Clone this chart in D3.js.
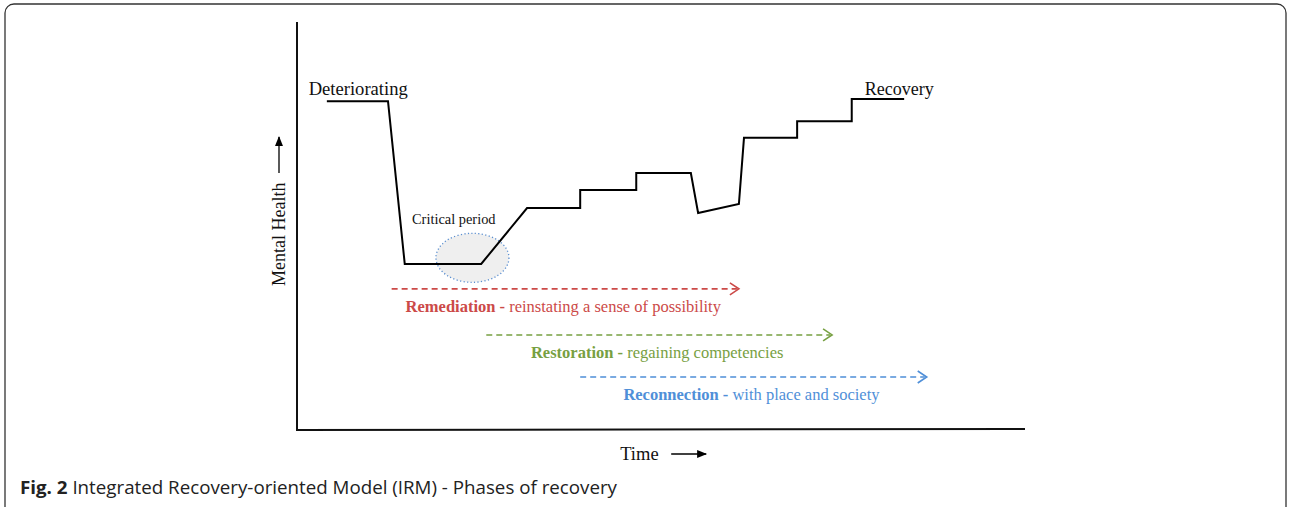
<!DOCTYPE html>
<meta charset="utf-8">
<head>
  <title>Integrated Recovery-oriented Model</title>
</head>
<style>
  html, body {
    margin: 0;
    padding: 0;
    background: #fff;
    overflow: hidden;
  }
  text.serif {
    font-family: "Liberation Serif", "DejaVu Serif", serif;
  }
  text.caption {
    font-family: "Open Sans", "Noto Sans", sans-serif;
  }
</style>
<body>
<svg id="chart" width="1292" height="507"></svg>
<script src="https://d3js.org/d3.v7.min.js" charset="utf-8"></script>
<script>
// recovery path: time (0-100) against mental health (0-100)
var path_time   = [4.1, 12.5, 14.8, 25.3, 31.6, 38.9, 38.9, 46.6, 46.6, 54.1, 55.1, 60.7, 61.4, 68.7, 68.7, 76.2, 76.2, 83.4];
var path_health = [80.6, 80.6, 40.7, 40.7, 54.4, 54.4, 58.8, 58.8, 63.0, 63.0, 53.2, 55.4, 71.6, 71.6, 75.7, 75.7, 81.1, 81.1];

var phase_names = ['Remediation', 'Restoration', 'Reconnection'];
var phase_descr = ['reinstating a sense of possibility', 'regaining competencies', 'with place and society'];
var phase_start = [13.0, 26.0, 38.9];
var phase_end   = [60.7, 73.5, 86.5];
var phase_level = [34.6, 23.3, 13.0];
var phase_color = ['#cc4a48', '#77a042', '#4f8fd8'];

var critical = {time: 24.1, health: 42.2, label: 'Critical period'};
var end_labels = ['Deteriorating', 'Recovery'];

var svg = d3.select('#chart');

// outer frame
svg.append('rect')
  .attr('x', 5).attr('y', 4)
  .attr('width', 1281).attr('height', 512)
  .attr('rx', 9)
  .attr('fill', 'none')
  .attr('stroke', '#333')
  .attr('stroke-width', 1.3);

var x = d3.scaleLinear().domain([0, 100]).range([297, 1025]);
var y = d3.scaleLinear().domain([0, 100]).range([430, 22]);

var defs = svg.append('defs');
defs.append('marker')
  .attr('id', 'solidhead')
  .attr('viewBox', '0 0 10 10')
  .attr('refX', 9).attr('refY', 5)
  .attr('markerWidth', 10).attr('markerHeight', 10)
  .attr('markerUnits', 'userSpaceOnUse')
  .attr('orient', 'auto')
  .append('path').attr('d', 'M0,1 L10,5 L0,9 Z').attr('fill', '#000');

// axes (plain lines, no ticks)
svg.append('line')
  .attr('x1', x(0)).attr('y1', y(100))
  .attr('x2', x(0)).attr('y2', y(0))
  .attr('stroke', '#111').attr('stroke-width', 2);
svg.append('line')
  .attr('x1', x(0) - 1).attr('y1', y(0))
  .attr('x2', x(100)).attr('y2', y(0) - 1)
  .attr('stroke', '#111').attr('stroke-width', 2);

// axis titles
svg.append('text').attr('class', 'serif')
  .attr('transform', 'translate(' + (x(0) - 12) + ',' + y(35.3) + ') rotate(-90)')
  .attr('font-size', 18)
  .attr('fill', '#111')
  .text('Mental Health');
svg.append('line')
  .attr('x1', x(0) - 18).attr('y1', y(63))
  .attr('x2', x(0) - 18).attr('y2', y(71.8))
  .attr('stroke', '#000').attr('stroke-width', 1.3)
  .attr('marker-end', 'url(#solidhead)');

svg.append('text').attr('class', 'serif')
  .attr('x', x(44.4)).attr('y', 460)
  .attr('font-size', 18.5)
  .attr('fill', '#111')
  .text('Time');
svg.append('line')
  .attr('x1', x(51.4)).attr('y1', 454)
  .attr('x2', x(56.2)).attr('y2', 454)
  .attr('stroke', '#000').attr('stroke-width', 1.3)
  .attr('marker-end', 'url(#solidhead)');

// critical period ellipse
svg.append('ellipse')
  .attr('cx', x(critical.time)).attr('cy', y(critical.health))
  .attr('rx', 36.5).attr('ry', 24.5)
  .attr('fill', '#efefef')
  .attr('stroke', '#5b8fd0')
  .attr('stroke-width', 1.3)
  .attr('stroke-dasharray', '1.2,2.3');
svg.append('text').attr('class', 'serif')
  .attr('x', x(15.8)).attr('y', 224)
  .attr('font-size', 14.4)
  .attr('fill', '#111')
  .text(critical.label);

// recovery path
var pts = path_time.map(function(t, i) { return [t, path_health[i]]; });
var line = d3.line()
  .x(function(d) { return x(d[0]); })
  .y(function(d) { return y(d[1]); });
svg.append('path')
  .datum(pts)
  .attr('d', line)
  .attr('fill', 'none')
  .attr('stroke', '#000')
  .attr('stroke-width', 2)
  .attr('stroke-linejoin', 'miter');

svg.append('text').attr('class', 'serif')
  .attr('x', x(1.6)).attr('y', 95)
  .attr('font-size', 18.6).attr('fill', '#111')
  .text(end_labels[0]);
svg.append('text').attr('class', 'serif')
  .attr('x', x(78.0)).attr('y', 95)
  .attr('font-size', 18).attr('fill', '#111')
  .text(end_labels[1]);

// phases: dashed arrows with labels
var phases = phase_names.map(function(n, i) {
  return {name: n, descr: phase_descr[i], start: phase_start[i], end: phase_end[i],
          level: phase_level[i], color: phase_color[i]};
});

var g = svg.selectAll('g.phase').data(phases).enter()
  .append('g').attr('class', 'phase');

g.append('line')
  .attr('x1', function(d) { return x(d.start); })
  .attr('x2', function(d) { return x(d.end) - 2; })
  .attr('y1', function(d) { return y(d.level); })
  .attr('y2', function(d) { return y(d.level); })
  .attr('stroke', function(d) { return d.color; })
  .attr('stroke-width', 1.6)
  .attr('stroke-dasharray', '6,4');

g.append('path')
  .attr('d', function(d) {
    var tx = x(d.end), ty = y(d.level);
    return 'M' + (tx - 9) + ',' + (ty - 6) + ' L' + tx + ',' + ty + ' L' + (tx - 9) + ',' + (ty + 6);
  })
  .attr('fill', 'none')
  .attr('stroke', function(d) { return d.color; })
  .attr('stroke-width', 1.6);

var lbl = g.append('text').attr('class', 'serif')
  .attr('x', function(d) { return (x(d.start) + x(d.end)) / 2 - 2; })
  .attr('y', function(d) { return y(d.level) + 23; })
  .attr('text-anchor', 'middle')
  .attr('font-size', 16.5)
  .attr('fill', function(d) { return d.color; });
lbl.append('tspan').attr('font-weight', 'bold').text(function(d) { return d.name + ' -'; });
lbl.append('tspan').text(function(d) { return ' ' + d.descr; });

// caption
var cap = svg.append('text').attr('class', 'caption')
  .attr('x', 20).attr('y', 494)
  .attr('font-size', 18)
  .attr('textLength', 597)
  .attr('lengthAdjust', 'spacingAndGlyphs')
  .attr('fill', '#222');
cap.append('tspan').attr('font-weight', 'bold').text('Fig. 2');
cap.append('tspan').text(' Integrated Recovery-oriented Model (IRM) - Phases of recovery');
</script>
</body>
